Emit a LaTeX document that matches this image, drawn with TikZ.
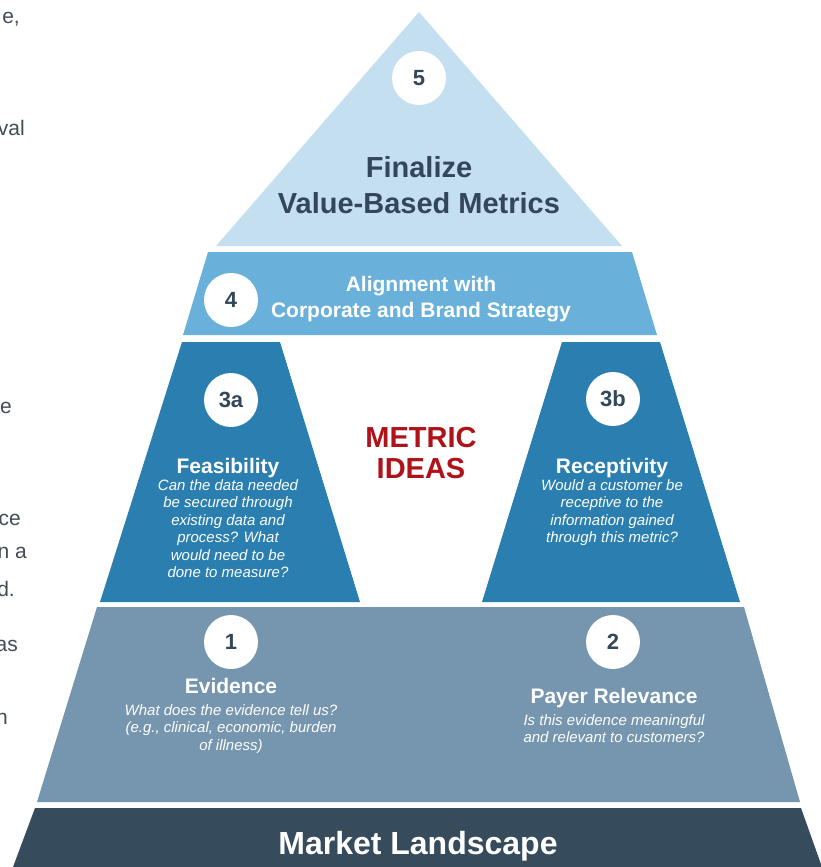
\documentclass[tikz,border=0pt]{standalone}
\usepackage{fontspec}
\setmainfont{Liberation Sans}
\usetikzlibrary{positioning}

\definecolor{tierfive}{HTML}{C3DFF0}
\definecolor{tierfour}{HTML}{69B1DB}
\definecolor{tierthree}{HTML}{2A7FB0}
\definecolor{tierone}{HTML}{7596AE}
\definecolor{landscape}{HTML}{364B5B}
\definecolor{slate}{HTML}{34475A}
\definecolor{ideared}{HTML}{B0121A}
\definecolor{bodygray}{HTML}{414C56}

\begin{document}
\begin{tikzpicture}[x=1pt, y=-1pt,
        num/.style={circle, fill=white, minimum size=54pt, inner sep=0pt, text=slate, font=\fontsize{22}{22}\selectfont\bfseries},
        head/.style={anchor=base, inner sep=0pt, text=white, font=\fontsize{21}{26}\selectfont\bfseries},
        note/.style={inner sep=0pt, text=white, align=center, font=\fontsize{15}{17.5}\selectfont\itshape},
        frag/.style={anchor=base east, inner sep=0pt, text=bodygray, font=\fontsize{21}{21}\selectfont}]
        \useasboundingbox (0,0) rectangle (820,867);

        \fill[tierfive] (419,12) -- (622,246) -- (216,246) -- cycle;
        \fill[tierfour] (208,252) -- (632,252) -- (657,335) -- (183,335) -- cycle;
        \fill[tierthree] (182,342) -- (280,342) -- (360,602) -- (100,602) -- cycle;
        \fill[tierthree] (562,342) -- (660,342) -- (740,602) -- (482,602) -- cycle;
        \fill[tierone] (97,607) -- (744,607) -- (800,802) -- (37,802) -- cycle;
        \fill[landscape] (35,808) -- (801,808) -- (822,867) -- (13,867) -- cycle;

        \node[num] (n5) at (419,78) {5};
        \node[anchor=base, inner sep=0pt, align=center, text=slate, font=\fontsize{29}{36}\selectfont\bfseries] (finalize) at (419,213) {Finalize\\Value-Based Metrics};

        \node[num] (n4) at (231,300) {4};
        \node[head, align=center] (alignment) at (421,317) {Alignment with\\Corporate and Brand Strategy};

        \node[num] (n3a) at (231,400) {3a};
        \node[head] (feas) at (228,473) {Feasibility};
        \node[note, below=6pt of feas.base] (feasq) {Can the data needed\\be secured through\\existing data and\\process? What\\would need to be\\done to measure?};

        \node[num] (n3b) at (613,399) {3b};
        \node[head] (recep) at (612,473) {Receptivity};
        \node[note, below=6pt of recep.base] (recepq) {Would a customer be\\receptive to the\\information gained\\through this metric?};

        \node[anchor=base, inner sep=0pt, align=center, text=ideared, font=\fontsize{29}{31}\selectfont\bfseries] (ideas) at (421,478) {METRIC\\IDEAS};

        \node[num] (n1) at (231,642) {1};
        \node[head] (evid) at (231,693) {Evidence};
        \node[note, below=11pt of evid.base] (evidq) {What does the evidence tell us?\\(e.g., clinical, economic, burden\\of illness)};

        \node[num] (n2) at (613,642) {2};
        \node[head] (payer) at (614,703) {Payer Relevance};
        \node[note, below=11pt of payer.base] (payerq) {Is this evidence meaningful\\and relevant to customers?};

        \node[anchor=base, inner sep=0pt, text=white, font=\fontsize{32}{32}\selectfont\bfseries] (market) at (418,854) {Market Landscape};

        \node[frag] (f1) at (20,24) {e,};
        \node[frag] (f2) at (25,135) {val};
        \node[frag] (f3) at (12,413) {e};
        \node[frag] (f4) at (21,525) {ce};
        \node[frag] (f5) at (27,558) {n a};
        \node[frag] (f6) at (15,596) {d.};
        \node[frag] (f7) at (18,651) {as};
        \node[frag] (f8) at (8,724) {n};
    \end{tikzpicture}
\end{document}
